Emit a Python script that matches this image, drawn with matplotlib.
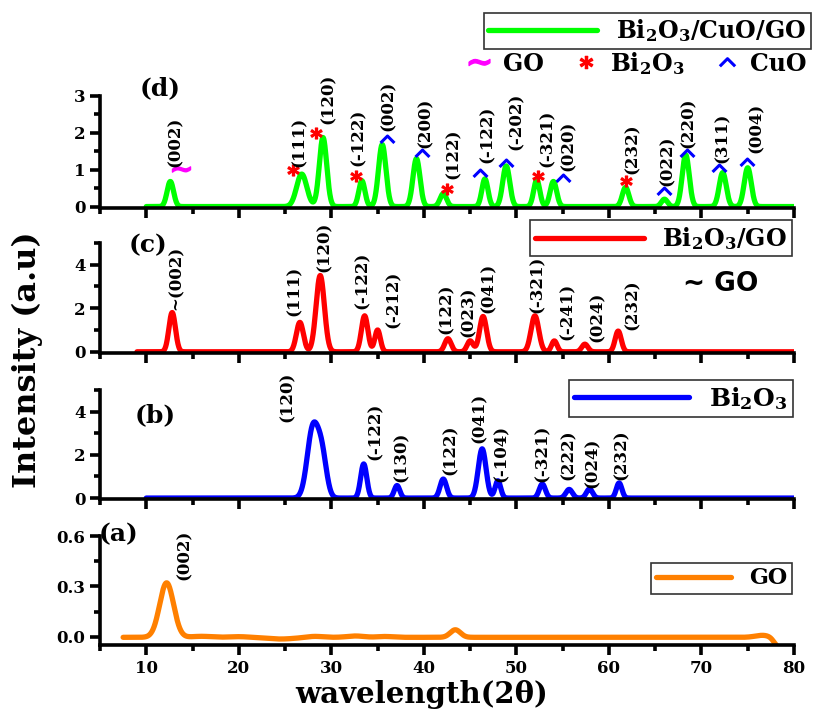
import numpy as np
import matplotlib.pyplot as plt
from matplotlib.lines import Line2D
from matplotlib.path import Path

plt.rcParams['font.family'] = 'DejaVu Serif'
plt.rcParams['font.weight'] = 'bold'
plt.rcParams['mathtext.fontset'] = 'custom'
plt.rcParams['mathtext.rm'] = 'DejaVu Serif:bold'
plt.rcParams['mathtext.it'] = 'DejaVu Serif:bold'
plt.rcParams['mathtext.bf'] = 'DejaVu Serif:bold'

# ---- peak tables (2theta position, intensity, width) ----
# (a) GO
go_pos = [12.2, 16.0, 20.0, 24.5, 28.2, 32.6, 35.8, 43.4, 76.6, 78.4]
go_int = [0.325, 0.006, 0.004, -0.010, 0.006, 0.008, 0.005, 0.045, 0.012, -0.06]
go_wid = [0.75, 1.0, 1.0, 1.5, 0.8, 0.9, 0.8, 0.55, 0.8, 0.5]
go_hkl = ['(002)']
go_hkl_x = [14.1]
go_hkl_y = [0.34]

# (b) Bi2O3
bi_pos = [28.0, 29.0, 33.5, 37.1, 42.1, 46.3, 48.0, 52.8, 55.7, 57.9, 61.1]
bi_int = [3.2, 1.8, 1.58, 0.58, 0.88, 2.28, 0.80, 0.65, 0.40, 0.42, 0.70]
bi_wid = [0.60, 0.50, 0.33, 0.30, 0.35, 0.42, 0.30, 0.33, 0.35, 0.33, 0.30]
bi_hkl = ['(120)', '(-122)', '(130)', '(122)', '(041)', '(-104)', '(-321)',
          '(222)', '(024)', '(232)']
bi_hkl_x = [25.2, 34.7, 37.6, 42.9, 46.0, 48.4, 52.8, 55.6, 58.2, 61.3]
bi_hkl_y = [3.53, 1.77, 0.74, 1.07, 2.56, 0.74, 0.74, 0.84, 0.47, 0.84]

# (c) Bi2O3/GO
bg_pos = [12.8, 26.6, 28.8, 33.6, 35.0, 42.6, 45.0, 46.4, 52.0, 54.1, 57.4, 61.0]
bg_int = [1.80, 1.35, 3.50, 1.65, 1.00, 0.60, 0.50, 1.62, 1.65, 0.50, 0.35, 0.95]
bg_wid = [0.35, 0.38, 0.45, 0.35, 0.30, 0.35, 0.33, 0.38, 0.42, 0.30, 0.33, 0.33]
bg_hkl = ['~(002)', '(111)', '(120)', '(-122)', '(-212)', '(122)', '(023)',
          '(041)', '(-321)', '(-241)', '(024)', '(232)']
bg_hkl_x = [13.2, 26.0, 29.2, 33.3, 36.7, 42.4, 44.8, 47.0, 52.3, 55.5, 58.7, 62.5]
bg_hkl_y = [1.90, 1.63, 3.67, 1.95, 1.10, 0.80, 0.70, 1.80, 1.80, 0.56, 0.47, 1.02]

# (d) Bi2O3/CuO/GO
bcg_pos = [12.6, 26.8, 29.1, 33.3, 35.5, 39.2, 42.1, 46.6, 48.9, 52.2, 54.0,
           61.8, 66.0, 68.3, 72.3, 75.0]
bcg_int = [0.68, 0.88, 1.87, 0.70, 1.68, 1.30, 0.35, 0.75, 1.10, 0.72, 0.68,
           0.52, 0.20, 1.40, 0.92, 1.05]
bcg_wid = [0.35, 0.55, 0.40, 0.33, 0.40, 0.38, 0.35, 0.33, 0.38, 0.33, 0.35,
           0.35, 0.33, 0.38, 0.38, 0.38]
bcg_hkl = ['(002)', '(111)', '(120)', '(-122)', '(002)', '(200)', '(122)',
           '(-122)', '(-202)', '(-321)', '(020)', '(232)', '(022)', '(220)',
           '(311)', '(004)']
bcg_hkl_x = [13.1, 26.5, 29.7, 32.9, 36.1, 40.1, 43.2, 46.9, 50.0, 53.3, 55.6,
             62.5, 66.3, 68.6, 72.2, 75.9]
bcg_hkl_y = [1.08, 1.08, 2.25, 1.11, 2.05, 1.58, 0.75, 1.17, 1.53, 1.08, 0.97,
             0.89, 0.56, 1.58, 1.17, 1.44]

# phase marks on (d)
mark_go_x, mark_go_y = [13.7], [1.03]
mark_bi_x = [25.9, 28.3, 32.7, 42.5, 52.3, 61.8]
mark_bi_y = [1.00, 2.00, 0.84, 0.47, 0.84, 0.70]
mark_cu_x = [36.0, 39.8, 46.1, 48.9, 55.0, 65.9, 68.4, 71.9, 74.9]
mark_cu_y = [1.83, 1.44, 0.92, 1.19, 0.78, 0.42, 1.44, 1.05, 1.22]


def pattern(x, pos, inten, wid):
    y = np.zeros_like(x)
    for c, h, w in zip(pos, inten, wid):
        y += h * np.exp(-0.5 * ((x - c) / w) ** 2)
    return y


# open "^" mark for CuO
caret = Path([(-1, -0.5), (0, 0.5), (1, -0.5)],
             [Path.MOVETO, Path.LINETO, Path.LINETO])

fig = plt.figure(figsize=(8.13, 7.10), dpi=100)
left, width = 0.123, 0.8536
ax_d = fig.add_axes([left, 0.707, width, 0.158])
ax_c = fig.add_axes([left, 0.503, width, 0.155])
ax_b = fig.add_axes([left, 0.297, width, 0.1535])
ax_a = fig.add_axes([left, 0.0915, width, 0.1535])

panels = [
    (ax_d, (10, 80), bcg_pos, bcg_int, bcg_wid, '#00ff00', (-0.04, 3.0),
     [0, 1, 2, 3], [0.5, 1.5, 2.5], bcg_hkl, bcg_hkl_x, bcg_hkl_y),
    (ax_c, (9.0, 80), bg_pos, bg_int, bg_wid, '#ff0000', (-0.05, 5.0),
     [0, 2, 4], [1, 3, 5], bg_hkl, bg_hkl_x, bg_hkl_y),
    (ax_b, (10, 80), bi_pos, bi_int, bi_wid, '#0000ff', (-0.05, 5.0),
     [0, 2, 4], [1, 3, 5], bi_hkl, bi_hkl_x, bi_hkl_y),
    (ax_a, (7.5, 78.2), go_pos, go_int, go_wid, '#ff8000', (-0.05, 0.6),
     [0, 0.3, 0.6], [0.15, 0.45], go_hkl, go_hkl_x, go_hkl_y),
]
labels = ['Bi$_2$O$_3$/CuO/GO', 'Bi$_2$O$_3$/GO', 'Bi$_2$O$_3$', 'GO']
tags = ['(d)', '(c)', '(b)', '(a)']
tag_xy = [(11.5, 3.2), (10.2, 4.9), (11.0, 3.86), (7.0, 0.61)]

for i, (ax, xr, pos, inten, wid, col, ylim, yt, ymt, hkl, hx, hy) in enumerate(panels):
    x = np.linspace(xr[0], xr[1], 3000)
    ax.plot(x, pattern(x, pos, inten, wid) - (0.004 if ax is ax_a else 0),
            color=col, lw=3.8, solid_capstyle='round', label=labels[i])
    ax.set_xlim(5, 80)
    ax.set_ylim(*ylim)
    ax.set_yticks(yt)
    ax.set_yticks(ymt, minor=True)
    ax.set_xticks(np.arange(10, 81, 10))
    ax.set_xticks(np.arange(5, 80, 10), minor=True)
    for s in ['top', 'right']:
        ax.spines[s].set_visible(False)
    for s in ['left', 'bottom']:
        ax.spines[s].set_linewidth(2.6)
    ax.tick_params(which='major', direction='out', length=7, width=2.6, labelsize=12)
    ax.tick_params(which='minor', direction='out', length=4.5, width=2.6)
    if ax is not ax_a:
        ax.tick_params(labelbottom=False)
    for t, tx, ty in zip(hkl, hx, hy):
        ax.text(tx, ty, t, rotation=90, ha='center', va='bottom', fontsize=12,
                clip_on=False)
    ax.text(tag_xy[i][0], tag_xy[i][1], tags[i], fontsize=18, ha='center',
            va='center', clip_on=False)

ax_a.set_yticklabels(['0.0', '0.3', '0.6'])

# phase marks
ax_d.plot(mark_go_x, mark_go_y, ls='none', marker='$\\sim$', ms=13, color='#ff00ff')
ax_d.plot(mark_bi_x, mark_bi_y, ls='none', marker='$*$', ms=8, color='red')
ax_d.plot(mark_cu_x, mark_cu_y, ls='none', marker=caret, ms=10, mew=2.2,
          mfc='none', color='blue')

# legends
leg_kw = dict(loc='upper right', bbox_transform=fig.transFigure, fancybox=False,
              borderaxespad=0, borderpad=0.2, edgecolor='#333333', framealpha=1)
lg = ax_d.legend(bbox_to_anchor=(0.997, 0.982), fontsize=17, handlelength=4.6, **leg_kw)
lg.get_frame().set_linewidth(1.2)
lg = ax_c.legend(bbox_to_anchor=(0.974, 0.690), fontsize=17, handlelength=4.6, **leg_kw)
lg.get_frame().set_linewidth(1.2)
lg = ax_b.legend(bbox_to_anchor=(0.975, 0.465), fontsize=18, handlelength=4.6, **leg_kw)
lg.get_frame().set_linewidth(1.2)
lg = ax_a.legend(bbox_to_anchor=(0.974, 0.207), fontsize=16, handlelength=3.4, **leg_kw)
lg.get_frame().set_linewidth(1.2)

phase_handles = [
    Line2D([], [], ls='none', marker='$\\sim$', ms=15, color='#ff00ff'),
    Line2D([], [], ls='none', marker='$*$', ms=9, color='red'),
    Line2D([], [], ls='none', marker=caret, ms=11, mew=2.2, mfc='none', color='blue'),
]
fig.legend(phase_handles, ['GO', 'Bi$_2$O$_3$', 'CuO'], loc='center',
           bbox_to_anchor=(0.782, 0.911), ncol=3, frameon=False, fontsize=17,
           handlelength=1.2, handletextpad=0.4, columnspacing=1.2)

fig.text(0.886, 0.600, '~ GO', fontsize=19, family='DejaVu Sans',
         fontweight='bold', ha='center', va='center')

fig.text(0.034, 0.494, 'Intensity (a.u)', rotation=90, fontsize=23,
         ha='center', va='center')
fig.text(0.518, 0.022, 'wavelength(2θ)', fontsize=21, ha='center', va='center')

fig.savefig('out.png', dpi=100)
